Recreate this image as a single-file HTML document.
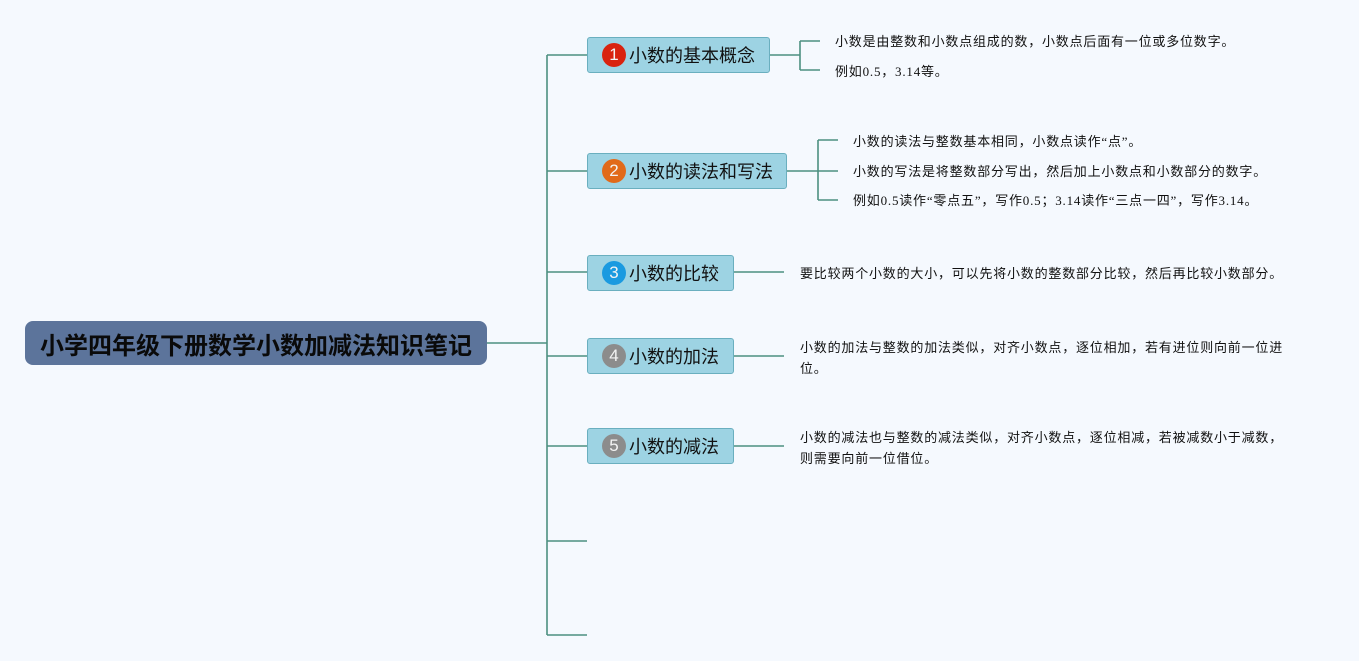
<!DOCTYPE html>
<html><head><meta charset="utf-8"><style>
body{margin:0;width:1359px;height:661px;background:#f5f9fe;position:relative;overflow:hidden;font-family:"Liberation Sans","Noto Sans CJK SC",sans-serif;}
.n{position:absolute;box-sizing:border-box;background:#9dd3e3;border:1px solid #6aafbf;border-radius:3px;font-size:18px;color:#111;display:flex;align-items:center;padding-left:14px;}
.c{width:24px;height:24px;border-radius:50%;color:#f3f3f3;font-size:17px;display:flex;align-items:center;justify-content:center;margin-right:3px;}
.t{position:absolute;font-size:13px;letter-spacing:0.8px;color:#111;line-height:21px;white-space:nowrap;font-family:"Liberation Serif","Noto Sans CJK SC",serif;}
</style></head><body>
<svg width="1359" height="661" style="position:absolute;left:0;top:0" fill="none" stroke="#4d9080" stroke-width="1.6">
<path d="M487 343H547M547 55V635M547 55H587M547 171H587M547 272H587M547 356H587M547 446H587M547 541H587M547 635H587"/>
<path d="M770 55H800M800 41V70M800 41H820M800 70H820"/>
<path d="M787 171H818M818 140V200M818 140H838M818 171H838M818 200H838"/>
<path d="M734 272H784M734 356H784M734 446H784"/>
</svg>
<div style="position:absolute;left:25px;top:321px;width:462px;height:44px;background:#5c749b;border-radius:8px;display:flex;align-items:center;justify-content:center;font-size:24px;font-weight:bold;color:#0a0a0a;">小学四年级下册数学小数加减法知识笔记</div>
<div class="n" style="left:587px;top:37px;width:183px;height:36px"><span class="c" style="background:#d9230f">1</span>小数的基本概念</div>
<div class="n" style="left:587px;top:153px;width:200px;height:36px"><span class="c" style="background:#e16a1a">2</span>小数的读法和写法</div>
<div class="n" style="left:587px;top:255px;width:147px;height:36px"><span class="c" style="background:#1a9ae0">3</span>小数的比较</div>
<div class="n" style="left:587px;top:338px;width:147px;height:36px"><span class="c" style="background:#8c8c8c">4</span>小数的加法</div>
<div class="n" style="left:587px;top:428px;width:147px;height:36px"><span class="c" style="background:#8c8c8c">5</span>小数的减法</div>
<div class="t" style="left:835px;top:31px">小数是由整数和小数点组成的数，小数点后面有一位或多位数字。</div>
<div class="t" style="left:835px;top:61px">例如0.5，3.14等。</div>
<div class="t" style="left:853px;top:131px">小数的读法与整数基本相同，小数点读作“点”。</div>
<div class="t" style="left:853px;top:161px">小数的写法是将整数部分写出，然后加上小数点和小数部分的数字。</div>
<div class="t" style="left:853px;top:190px">例如0.5读作“零点五”，写作0.5；3.14读作“三点一四”，写作3.14。</div>
<div class="t" style="left:800px;top:263px">要比较两个小数的大小，可以先将小数的整数部分比较，然后再比较小数部分。</div>
<div class="t" style="left:800px;top:337px">小数的加法与整数的加法类似，对齐小数点，逐位相加，若有进位则向前一位进<br>位。</div>
<div class="t" style="left:800px;top:427px">小数的减法也与整数的减法类似，对齐小数点，逐位相减，若被减数小于减数，<br>则需要向前一位借位。</div>
</body></html>
